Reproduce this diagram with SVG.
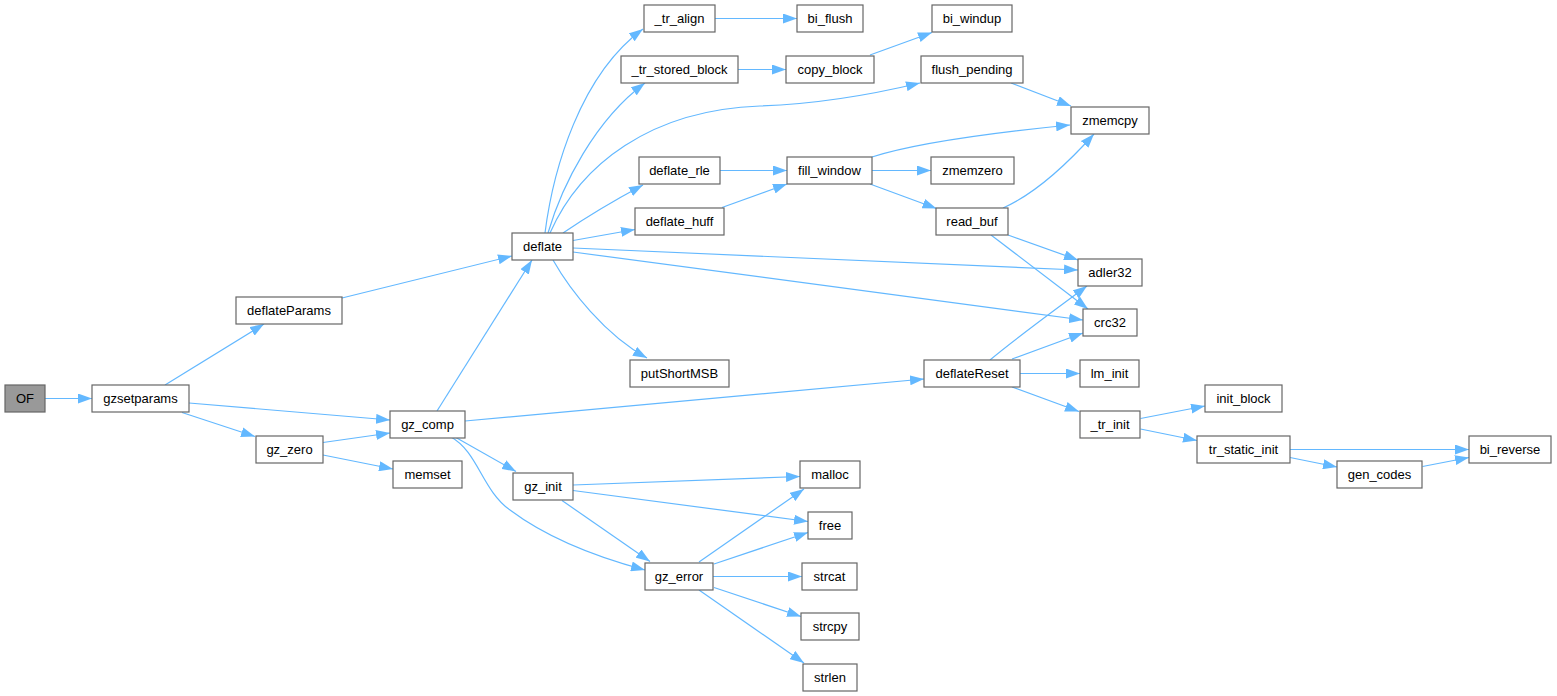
<svg xmlns="http://www.w3.org/2000/svg" width="1557" height="696" viewBox="0 0 1557 696">
<style>
.n rect{fill:#fff;stroke:#666;stroke-width:1.2}
.n text{font-family:"Liberation Sans",Arial,sans-serif;font-size:13px;fill:#000;text-anchor:middle}
#OF rect{fill:#999}
#edges path{fill:none;stroke:#63b8ff;stroke-width:1.2;marker-end:url(#ah)}
</style>
<defs>
<marker id="ah" markerUnits="userSpaceOnUse" markerWidth="14" markerHeight="10" refX="14" refY="5" orient="auto">
<path d="M0,0 L14,5 L0,10 z" fill="#63b8ff"/>
</marker>
</defs>
<rect width="1557" height="696" fill="#fff"/>
<g id="edges">
<path d="M45,398.5 L92,398.5"/>
<path d="M165,385 L264,324"/>
<path d="M189,403 L390,420"/>
<path d="M182,412.5 L255,436.5"/>
<path d="M323,442.5 L390,433"/>
<path d="M323,455 L393,469"/>
<path d="M342,298 L512,256"/>
<path d="M437,411 L532,260"/>
<path d="M545,233 C553,170 580,75 643,29"/>
<path d="M548,233 C562,185 595,120 645,83"/>
<path d="M550,233 C580,165 650,110 760,106 C820,104 870,95 920,83"/>
<path d="M563,233 C585,218 615,200 643,185"/>
<path d="M573,240.5 L635,229.5"/>
<path d="M573,248 L1078,270"/>
<path d="M573,252 L1083,320"/>
<path d="M553,260 C570,290 605,335 647,358"/>
<path d="M715,18.5 L797,18.5"/>
<path d="M738,69.5 L786,69.5"/>
<path d="M870,55 L932,32.5"/>
<path d="M1011,83 L1071,106"/>
<path d="M720,170.5 L787,170.5"/>
<path d="M722,207.5 L787,184"/>
<path d="M872,157 C900,148 960,136 1070,125"/>
<path d="M872,170.5 L931,170.5"/>
<path d="M870,184 L936.5,208.5"/>
<path d="M1003,208 C1030,196 1060,172 1094,134"/>
<path d="M1008,235 L1078,260"/>
<path d="M991,235 L1088,309"/>
<path d="M990,360 C1020,335 1055,310 1087,286"/>
<path d="M1012,359 L1083,333"/>
<path d="M1020,373.5 L1080,373.5"/>
<path d="M1012,387 L1079,411.5"/>
<path d="M1140.5,418.5 L1205,406"/>
<path d="M1140.5,429 L1197,440.5"/>
<path d="M1290,449.5 L1469,449.5"/>
<path d="M1290,457.5 L1337,467"/>
<path d="M1422.5,466.5 L1469,457.5"/>
<path d="M465,421 L924,379"/>
<path d="M455,437 L516,471.5"/>
<path d="M451,437 C478,452 482,490 510,510 C550,540 600,558 645,570"/>
<path d="M573,485 L800,476.5"/>
<path d="M573,490.5 L808,521.5"/>
<path d="M562,500.5 L650,561.5"/>
<path d="M699,562 L804,489"/>
<path d="M714,564 L808,532.5"/>
<path d="M713,576.5 L802,576.5"/>
<path d="M714,587.5 L801,616.5"/>
<path d="M699,590 L804,663"/>
</g>
<g id="OF" class="n"><rect x="5" y="385" width="40" height="27"/><text x="25" y="403">OF</text></g>
<g id="gzsetparams" class="n"><rect x="92" y="385" width="97" height="27"/><text x="140.5" y="403">gzsetparams</text></g>
<g id="deflateParams" class="n"><rect x="236" y="297" width="106" height="27"/><text x="289" y="315">deflateParams</text></g>
<g id="gz_zero" class="n"><rect x="256" y="436" width="67" height="27"/><text x="289.5" y="454">gz_zero</text></g>
<g id="deflate" class="n"><rect x="512" y="233" width="61" height="27"/><text x="542.5" y="251">deflate</text></g>
<g id="gz_comp" class="n"><rect x="390" y="411" width="75" height="27"/><text x="427.5" y="429">gz_comp</text></g>
<g id="memset" class="n"><rect x="393" y="461" width="69" height="27"/><text x="427.5" y="479">memset</text></g>
<g id="_tr_align" class="n"><rect x="644" y="5" width="71" height="27"/><text x="679.5" y="23">_tr_align</text></g>
<g id="_tr_stored_block" class="n"><rect x="621" y="56" width="117" height="27"/><text x="679.5" y="74">_tr_stored_block</text></g>
<g id="deflate_rle" class="n"><rect x="639" y="157" width="81" height="27"/><text x="679.5" y="175">deflate_rle</text></g>
<g id="deflate_huff" class="n"><rect x="635" y="208" width="89" height="27"/><text x="679.5" y="226">deflate_huff</text></g>
<g id="putShortMSB" class="n"><rect x="630" y="360" width="99" height="27"/><text x="679.5" y="378">putShortMSB</text></g>
<g id="gz_init" class="n"><rect x="513" y="473" width="60" height="27"/><text x="543" y="491">gz_init</text></g>
<g id="malloc" class="n"><rect x="800" y="461" width="60" height="27"/><text x="830" y="479">malloc</text></g>
<g id="free" class="n"><rect x="808" y="512" width="44" height="27"/><text x="830" y="530">free</text></g>
<g id="gz_error" class="n"><rect x="645" y="563" width="68" height="27"/><text x="679" y="581">gz_error</text></g>
<g id="strcat" class="n"><rect x="802" y="563" width="55" height="27"/><text x="829.5" y="581">strcat</text></g>
<g id="strcpy" class="n"><rect x="801" y="613" width="58" height="27"/><text x="830" y="631">strcpy</text></g>
<g id="strlen" class="n"><rect x="803" y="664" width="54" height="27"/><text x="830" y="682">strlen</text></g>
<g id="bi_flush" class="n"><rect x="797" y="5" width="66" height="27"/><text x="830" y="23">bi_flush</text></g>
<g id="bi_windup" class="n"><rect x="932" y="5" width="80" height="27"/><text x="972" y="23">bi_windup</text></g>
<g id="copy_block" class="n"><rect x="786" y="56" width="88" height="27"/><text x="830" y="74">copy_block</text></g>
<g id="flush_pending" class="n"><rect x="921" y="56" width="102" height="27"/><text x="972" y="74">flush_pending</text></g>
<g id="zmemcpy" class="n"><rect x="1071" y="107" width="78" height="27"/><text x="1110" y="125">zmemcpy</text></g>
<g id="fill_window" class="n"><rect x="787" y="157" width="85" height="27"/><text x="829.5" y="175">fill_window</text></g>
<g id="zmemzero" class="n"><rect x="931" y="157" width="83" height="27"/><text x="972.5" y="175">zmemzero</text></g>
<g id="read_buf" class="n"><rect x="936" y="208" width="72" height="27"/><text x="972" y="226">read_buf</text></g>
<g id="adler32" class="n"><rect x="1078" y="259" width="64" height="27"/><text x="1110" y="277">adler32</text></g>
<g id="crc32" class="n"><rect x="1083" y="309" width="54" height="27"/><text x="1110" y="327">crc32</text></g>
<g id="deflateReset" class="n"><rect x="924" y="360" width="96" height="27"/><text x="972" y="378">deflateReset</text></g>
<g id="lm_init" class="n"><rect x="1080" y="360" width="59" height="27"/><text x="1109.5" y="378">lm_init</text></g>
<g id="_tr_init" class="n"><rect x="1080" y="411" width="60" height="27"/><text x="1110" y="429">_tr_init</text></g>
<g id="init_block" class="n"><rect x="1205" y="385" width="77" height="27"/><text x="1243.5" y="403">init_block</text></g>
<g id="tr_static_init" class="n"><rect x="1197" y="436" width="93" height="27"/><text x="1243.5" y="454">tr_static_init</text></g>
<g id="bi_reverse" class="n"><rect x="1469" y="436" width="82" height="27"/><text x="1510" y="454">bi_reverse</text></g>
<g id="gen_codes" class="n"><rect x="1337" y="461" width="85" height="27"/><text x="1379.5" y="479">gen_codes</text></g>
</svg>
